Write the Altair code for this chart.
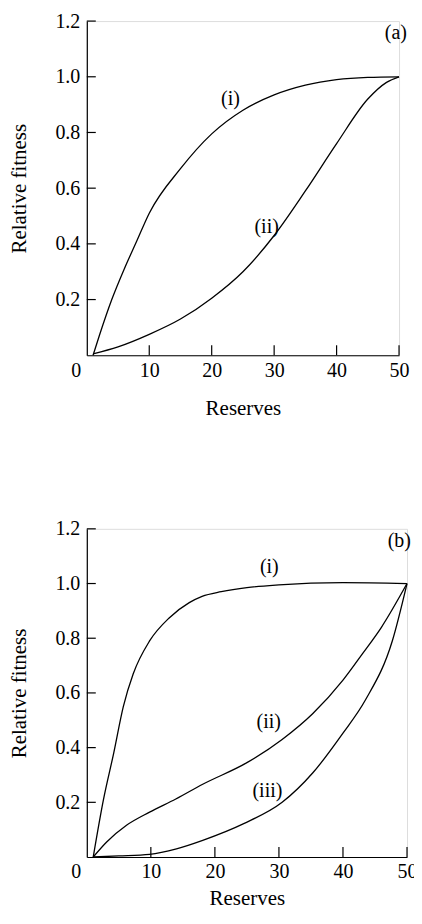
import altair as alt
import pandas as pd

# ---------------- data ----------------
# Panel (a)
a_i_x = [1, 2, 4, 6, 8, 10, 15, 20, 25, 30, 35, 40, 45, 50]
a_i_y = [0.0, 0.07, 0.2, 0.31, 0.41, 0.51, 0.67, 0.795, 0.88, 0.935, 0.97, 0.99, 0.998, 1.0]

a_ii_x = [1, 5, 10, 15, 20, 25, 30, 35, 40, 45, 48, 50]
a_ii_y = [0.005, 0.03, 0.075, 0.13, 0.205, 0.3, 0.43, 0.59, 0.76, 0.92, 0.98, 1.0]

# Panel (b)
b_i_x = [1, 2.6, 4.2, 5.7, 7.25, 9.8, 12.9, 16, 18, 21, 25, 30, 40, 50]
b_i_y = [0.0, 0.21, 0.38, 0.55, 0.67, 0.79, 0.875, 0.93, 0.953, 0.97, 0.985, 0.995, 1.003, 1.0]

b_ii_x = [1, 3.1, 6.2, 9.8, 13.9, 18.1, 25, 30.5, 35.3, 40, 43, 46, 50]
b_ii_y = [0.0, 0.055, 0.116, 0.164, 0.212, 0.266, 0.345, 0.43, 0.525, 0.647, 0.742, 0.84, 1.0]

b_iii_x = [1, 5, 9.8, 14, 18.1, 24.5, 30.5, 35.3, 40, 43.5, 47.7, 50]
b_iii_y = [0.0, 0.004, 0.01, 0.03, 0.061, 0.122, 0.2, 0.308, 0.453, 0.574, 0.79, 1.0]

# curve labels (text, x, y)
a_labels = ["(i)", "(ii)", "(a)"]
a_label_x = [23, 28.8, 49.5]
a_label_y = [0.92, 0.462, 1.157]

b_labels = ["(i)", "(ii)", "(iii)", "(b)"]
b_label_x = [28.5, 28.4, 28.2, 48.8]
b_label_y = [1.059, 0.495, 0.242, 1.157]

x_ticks = [0, 10, 20, 30, 40, 50]
y_ticks = [0.2, 0.4, 0.6, 0.8, 1.0, 1.2]

FONT = "Liberation Serif"


def panel(curves, lab_text, lab_x, lab_y, width, height, title_pad, xtitle_pad):
    rows = []
    for name, xs, ys in curves:
        for xv, yv in zip(xs, ys):
            rows.append({"x": xv, "y": yv, "curve": name})
    df = pd.DataFrame(rows)

    xscale = alt.Scale(domain=[0, 50], nice=False, zero=True)
    yscale = alt.Scale(domain=[0, 1.2], nice=False, zero=True)

    xaxis = alt.Axis(
        values=x_ticks, format="d", ticks=False, grid=False, domain=True,
        domainColor="black", domainWidth=1.2,
        labelFont=FONT, labelFontSize=20, labelColor="black",
        labelPadding=5, labelFlush=False, labelOverlap=False,
        labelOffset={"condition": {"test": "datum.value === 0", "value": -11}, "value": 0},
        title="Reserves", titleFont=FONT, titleFontSize=21,
        titleFontWeight="normal", titleColor="black", titlePadding=xtitle_pad,
    )
    yaxis = alt.Axis(
        values=y_ticks, format=".1f", ticks=False, grid=False, domain=True,
        domainColor="black", domainWidth=1.2,
        labelFont=FONT, labelFontSize=20, labelColor="black",
        labelPadding=7, labelOverlap=False, labelFlush=False,
        title="Relative fitness", titleFont=FONT, titleFontSize=21,
        titleFontWeight="normal", titleColor="black", titlePadding=title_pad,
    )

    lines = alt.Chart(df).mark_line(
        color="black", strokeWidth=1.3, interpolate="monotone"
    ).encode(
        x=alt.X("x:Q", scale=xscale, axis=xaxis),
        y=alt.Y("y:Q", scale=yscale, axis=yaxis),
        detail="curve:N",
    )

    ytick_df = pd.DataFrame({"v": y_ticks})
    yticks = alt.Chart(ytick_df).mark_rule(color="black", strokeWidth=1.2).encode(
        y=alt.Y("v:Q", scale=yscale),
        x=alt.value(0), x2=alt.value(9),
    )
    xtick_df = pd.DataFrame({"v": x_ticks[1:]})
    xticks = alt.Chart(xtick_df).mark_rule(color="black", strokeWidth=1.2).encode(
        x=alt.X("v:Q", scale=xscale),
        y=alt.value(height), y2=alt.value(height - 10),
    )

    lab_df = pd.DataFrame({"t": lab_text, "x": lab_x, "y": lab_y})
    labels = alt.Chart(lab_df).mark_text(
        font=FONT, fontSize=20, color="black", align="center", baseline="middle"
    ).encode(
        x=alt.X("x:Q", scale=xscale),
        y=alt.Y("y:Q", scale=yscale),
        text="t:N",
    )

    return alt.layer(lines, yticks, xticks, labels).properties(width=width, height=height)


pa = panel(
    [("i", a_i_x, a_i_y), ("ii", a_ii_x, a_ii_y)],
    a_labels, a_label_x, a_label_y, 313, 335, 25, 17,
)
pb = panel(
    [("i", b_i_x, b_i_y), ("ii", b_ii_x, b_ii_y), ("iii", b_iii_x, b_iii_y)],
    b_labels, b_label_x, b_label_y, 321, 329, 25, 6,
)

chart = alt.vconcat(pa, pb, spacing=99).properties(
    padding={"left": 0, "top": 1, "right": -4, "bottom": 0}
).configure_view(stroke=None).configure(background="white")

chart.save("out.html", embed_options={"renderer": "svg", "actions": False})
